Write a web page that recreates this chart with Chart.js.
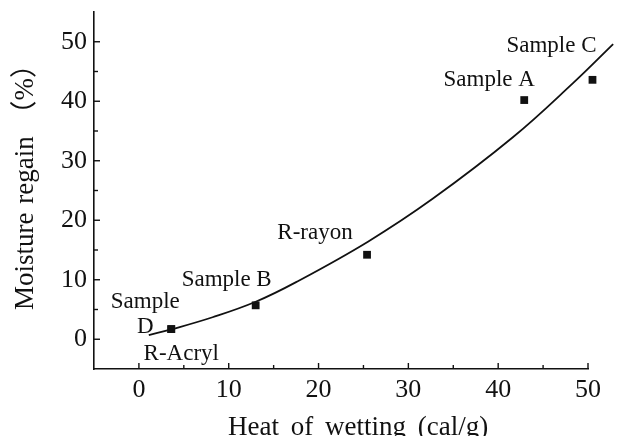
<!DOCTYPE html>
<html><head><meta charset="utf-8">
<script src="https://cdn.jsdelivr.net/npm/chart.js@4.4.1/dist/chart.umd.min.js"></script>
<style>html,body{margin:0;padding:0;background:#fff;overflow:hidden}</style>
</head><body>
<canvas id="c" width="632" height="436"></canvas>
<script>
// ---- data ----
const sampleNames    = ['Sample\nD', 'R-Acryl', 'Sample B', 'R-rayon', 'Sample A', 'Sample C'];
const heatOfWetting  = [3.6, 3.6, 13.0, 25.4, 42.9, 50.5];   // cal/g
const moistureRegain = [1.7, 1.7, 5.7, 14.2, 40.2, 43.6];    // %
const fitCurveX = [1.1, 3.7, 8.2, 13.0, 17.5, 25.5, 32.7, 41.6, 48.3, 52.8];
const fitCurveY = [0.7, 1.7, 3.7, 6.3, 9.6, 16.4, 23.6, 33.9, 43.0, 49.6];
const xTickValues      = [0, 10, 20, 30, 40, 50];
const xMinorTickValues = [5, 15, 25, 35, 45];
const yTickValues      = [0, 10, 20, 30, 40, 50];
const yMinorTickValues = [5, 15, 25, 35, 45];
const xTitle = 'Heat of wetting (cal/g)';
const yTitle = 'Moisture regain （%）';

// ---- styling / placement (not data) ----
const SERIF = "'Liberation Serif','Noto Sans CJK JP',serif";
const INK = '#111111';
const labelOffsets = [[-26, -21], [10, 31], [-29, -19], [-52, -16], [-35, -14], [-41, -28]];

const decor = {
  id: 'decor',
  afterDraw(chart) {
    const ctx = chart.ctx;
    const xs = chart.scales.x, ys = chart.scales.y;
    const area = chart.chartArea;
    ctx.save();
    ctx.strokeStyle = INK;
    ctx.lineWidth = 1.4;
    const tick = (x1, y1, x2, y2) => { ctx.beginPath(); ctx.moveTo(x1, y1); ctx.lineTo(x2, y2); ctx.stroke(); };
    xTickValues.forEach(v => { const p = xs.getPixelForValue(v); tick(p, area.bottom, p, area.bottom - 6); });
    xMinorTickValues.forEach(v => { const p = xs.getPixelForValue(v); tick(p, area.bottom, p, area.bottom - 4); });
    yTickValues.forEach(v => { const p = ys.getPixelForValue(v); tick(area.left, p, area.left + 6, p); });
    yMinorTickValues.forEach(v => { const p = ys.getPixelForValue(v); tick(area.left, p, area.left + 4, p); });

    ctx.fillStyle = INK;
    ctx.font = '23px ' + SERIF;
    ctx.textAlign = 'center';
    ctx.textBaseline = 'alphabetic';
    sampleNames.forEach((name, i) => {
      const px = xs.getPixelForValue(heatOfWetting[i]);
      const py = ys.getPixelForValue(moistureRegain[i]);
      const [dx, dy] = labelOffsets[i];
      name.split('\n').forEach((line, k) => ctx.fillText(line, px + dx, py + dy + k * 25));
    });

    ctx.font = '27px ' + SERIF;
    ctx.textAlign = 'left';
    if ('wordSpacing' in ctx) ctx.wordSpacing = '5px';
    ctx.fillText(xTitle, 228, 435);
    if ('wordSpacing' in ctx) ctx.wordSpacing = '2px';
    ctx.translate(33, 310);
    ctx.rotate(-Math.PI / 2);
    ctx.fillText(yTitle, 0, 0);
    ctx.restore();
  }
};

const noPad = s => { s.paddingTop = 0; s.paddingBottom = 0; s.paddingLeft = 0; s.paddingRight = 0; };

new Chart(document.getElementById('c'), {
  type: 'scatter',
  data: {
    datasets: [
      {
        label: 'Fitted curve',
        data: fitCurveX.map((x, i) => ({ x, y: fitCurveY[i] })),
        showLine: true,
        tension: 0.4,
        borderColor: INK,
        borderWidth: 1.8,
        pointRadius: 0,
        fill: false,
        clip: false
      },
      {
        label: 'Samples',
        data: heatOfWetting.map((x, i) => ({ x, y: moistureRegain[i] })),
        pointStyle: 'rect',
        pointRadius: 5.5,
        pointBackgroundColor: INK,
        pointBorderWidth: 0,
        clip: false
      }
    ]
  },
  options: {
    responsive: false,
    animation: false,
    devicePixelRatio: 1,
    layout: { padding: { top: 12, right: 44, bottom: 0, left: 0 } },
    plugins: { legend: { display: false }, tooltip: { enabled: false } },
    scales: {
      x: {
        type: 'linear', position: 'bottom', min: -5, max: 50,
        afterBuildTicks: s => { s.ticks = xTickValues.map(v => ({ value: v })); },
        afterFit: s => { s.height = 67; noPad(s); },
        grid: { display: false, drawTicks: false },
        border: { display: true, color: INK, width: 1.6 },
        ticks: { color: INK, padding: 6, font: { family: SERIF, size: 26 } }
      },
      y: {
        type: 'linear', position: 'left', min: -5, max: 55,
        afterBuildTicks: s => { s.ticks = yTickValues.map(v => ({ value: v })); },
        afterFit: s => { s.width = 94; noPad(s); },
        grid: { display: false, drawTicks: false },
        border: { display: true, color: INK, width: 1.6 },
        ticks: { color: INK, padding: 7, font: { family: SERIF, size: 26 } }
      }
    }
  },
  plugins: [decor]
});
</script>
</body></html>
